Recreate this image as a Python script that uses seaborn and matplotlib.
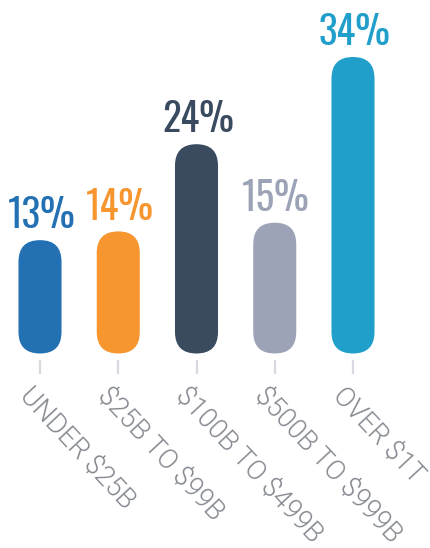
import matplotlib
matplotlib.use("Agg")
import matplotlib.pyplot as plt
import matplotlib.transforms as mtransforms
from matplotlib.patches import FancyBboxPatch
import seaborn as sns
import pandas as pd

categories = ["UNDER $25B", "$25B TO $99B", "$100B TO $499B", "$500B TO $999B", "OVER $1T"]
values = [13, 14, 24, 15, 34]
value_labels = ["13%", "14%", "24%", "15%", "34%"]
colors = ["#2370b3", "#f7952f", "#3a4a5f", "#9ca3b6", "#209fcb"]

sns.set_theme(style="white")
plt.rcParams["font.family"] = ["Roboto", "DejaVu Sans"]

W, H = 430, 548
fig = plt.figure(figsize=(W / 100, H / 100), dpi=100)
zero_px = 353.5
ax = fig.add_axes([0, (H - zero_px) / H, 1, zero_px / H])

df = pd.DataFrame({"cat": categories, "val": values})
sns.barplot(data=df, x="cat", y="val", hue="cat", palette=colors, width=0.55,
            legend=False, ax=ax, saturation=1)

x_unit = 78.25
x0_px = 40
ax.set_xlim(-x0_px / x_unit, (W - x0_px) / x_unit)
y_unit = (zero_px - 57) / 34
ax.set_ylim(0, zero_px / y_unit)
aspect = x_unit / y_unit

# replace rectangles with rounded bars
rects = list(ax.patches)
for p in rects:
    x, y = p.get_x(), p.get_y()
    w, h = p.get_width(), p.get_height()
    fc = p.get_facecolor()
    p.remove()
    fb = FancyBboxPatch((x, y), w, h,
                        boxstyle=f"round,pad=0,rounding_size={w / 2}",
                        mutation_aspect=aspect, facecolor=fc, edgecolor="none")
    ax.add_patch(fb)

for i, (v, lab, c) in enumerate(zip(values, value_labels, colors)):
    ax.annotate(lab, (i, v), xytext=(1, 8.5), textcoords="offset points",
                ha="center", va="baseline", fontsize=28, fontweight="normal",
                color=c, family=["Oswald", "DejaVu Sans"])

for s in ax.spines.values():
    s.set_visible(False)
ax.spines["bottom"].set_position(("outward", 4.5))
ax.set_yticks([])
ax.set_xlabel("")
ax.set_ylabel("")
ax.set_xticks(range(len(categories)))
ax.set_xticklabels(categories, rotation=-47, ha="left", va="top",
                   rotation_mode="anchor", color="#84888f", fontsize=19.5,
                   fontweight=300, parse_math=False)
ax.tick_params(axis="x", bottom=True, length=10.1, width=1.6, color="#d6d9e0",
               direction="out", pad=6.0)
offset = mtransforms.ScaledTranslation(-6 / 100, 0, fig.dpi_scale_trans)
for t in ax.get_xticklabels():
    t.set_transform(t.get_transform() + offset)

fig.savefig("out.png", dpi=100)
